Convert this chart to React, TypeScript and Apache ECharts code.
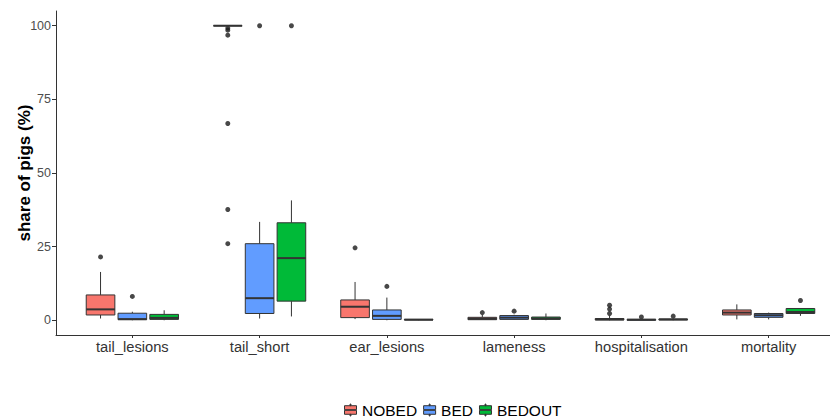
import React, { useEffect, useRef } from "react";
import * as echarts from "echarts";

const categories = ["tail_lesions", "tail_short", "ear_lesions", "lameness", "hospitalisation", "mortality"];
const groups = ["NOBED", "BED", "BEDOUT"];
const colors = ["#F8766D", "#619CFF", "#00BA38"];
const yTicks = [0, 25, 50, 75, 100];

// per category: [lower whisker, Q1, median, Q3, upper whisker]
const nobedBox = [
  [0.6, 1.8, 3.7, 8.6, 16.4],
  [100, 100, 100, 100, 100],
  [0.4, 0.9, 4.6, 6.9, 13.0],
  [0.2, 0.2, 0.5, 1.0, 1.8],
  [0, 0.1, 0.3, 0.6, 1.6],
  [0.3, 1.8, 2.6, 3.5, 5.4],
];
const bedBox = [
  [0, 0.2, 0.4, 2.4, 2.9],
  [0.6, 2.3, 7.5, 26.0, 33.4],
  [0, 0.3, 1.5, 3.5, 7.7],
  [0.2, 0.3, 0.9, 1.6, 1.9],
  [0, 0, 0.2, 0.3, 0.5],
  [0.3, 1.0, 1.7, 2.3, 2.6],
];
const bedoutBox = [
  [0, 0.3, 0.8, 2.0, 3.4],
  [1.3, 6.5, 21.1, 33.1, 40.7],
  [0, 0.1, 0.2, 0.3, 0.3],
  [0, 0.3, 0.6, 1.1, 2.3],
  [0, 0.1, 0.3, 0.4, 0.6],
  [1.5, 2.3, 2.8, 4.0, 4.0],
];

// outliers: [category index, value]
const nobedOut = [
  [0, 21.5], [1, 99.2], [1, 98.5], [1, 96.8], [1, 66.8], [1, 37.6], [1, 26.0],
  [2, 24.6], [3, 2.6], [4, 5.1], [4, 3.8], [4, 2.3],
];
const bedOut = [[0, 8.1], [1, 100], [2, 11.5], [3, 3.1], [4, 1.1]];
const bedoutOut = [[1, 100], [4, 1.4], [5, 6.7]];

const boxes = [nobedBox, bedBox, bedoutBox];
const outs = [nobedOut, bedOut, bedoutOut];

const DODGE = 0.25;
const BOX_W = 0.225;
const STROKE = "#333333";
const FONT = "Liberation Sans";

function makeRender(color: string) {
  return (params: any, api: any) => {
    const x = api.value(0);
    const lo = api.coord([x, api.value(1)]);
    const q1 = api.coord([x, api.value(2)]);
    const med = api.coord([x, api.value(3)]);
    const q3 = api.coord([x, api.value(4)]);
    const hi = api.coord([x, api.value(5)]);
    const w = api.size([BOX_W, 0])[0];
    const cx = lo[0];
    return {
      type: "group",
      children: [
        { type: "line", shape: { x1: cx, y1: hi[1], x2: cx, y2: q3[1] }, style: { stroke: STROKE, lineWidth: 1 } },
        { type: "line", shape: { x1: cx, y1: q1[1], x2: cx, y2: lo[1] }, style: { stroke: STROKE, lineWidth: 1 } },
        {
          type: "rect",
          shape: { x: cx - w / 2, y: q3[1], width: w, height: q1[1] - q3[1] },
          style: { fill: color, stroke: STROKE, lineWidth: 1 },
        },
        {
          type: "line",
          shape: { x1: cx - w / 2, y1: med[1], x2: cx + w / 2, y2: med[1] },
          style: { stroke: STROKE, lineWidth: 2 },
        },
      ],
    };
  };
}

const legendIcon =
  "path://M0,2H14V6.6H0Z M0,7.4H14V12H0Z M6.5,0H7.5V2H6.5Z M6.5,12H7.5V14H6.5Z";

export default function App() {
  const ref = useRef<HTMLDivElement>(null);
  useEffect(() => {
    if (!ref.current) return;
    const chart = echarts.init(ref.current, null, { renderer: "svg" });
    const series: any[] = [];
    groups.forEach((g, gi) => {
      const off = (gi - 1) * DODGE;
      series.push({
        type: "custom",
        name: g,
        renderItem: makeRender(colors[gi]),
        itemStyle: { color: colors[gi] },
        dimensions: ["x", "lo", "q1", "med", "q3", "hi"],
        encode: { x: 0, y: [1, 2, 3, 4, 5] },
        data: boxes[gi].map((b, ci) => [ci + 1 + off, ...b]),
        z: 3,
      });
      series.push({
        type: "scatter",
        name: g + "_outliers",
        data: outs[gi].map(([ci, v]) => [ci + 1 + off, v]),
        symbolSize: 5,
        itemStyle: { color: "#1a1a1a" },
        z: 2,
      });
    });
    chart.setOption({
      animation: false,
      textStyle: { fontFamily: FONT },
      grid: { left: 56, top: 11, width: 789, height: 324, outerBoundsMode: "none", containLabel: false },
      xAxis: {
        type: "value",
        min: 0.4,
        max: 6.6,
        splitLine: { show: false },
        axisLine: { show: true, onZero: false, lineStyle: { color: STROKE, width: 1 } },
        axisTick: { show: true, length: 3, customValues: [1, 2, 3, 4, 5, 6], lineStyle: { color: STROKE } },
        axisLabel: {
          customValues: [1, 2, 3, 4, 5, 6],
          formatter: (v: number) => categories[Math.round(v) - 1] ?? "",
          fontSize: 14.7,
          color: "#333333",
          margin: 4,
          fontFamily: FONT,
        },
      },
      yAxis: {
        type: "value",
        min: -5,
        max: 105,
        name: "share of pigs (%)",
        nameLocation: "middle",
        nameGap: 23,
        nameMoveOverlap: false,
        nameTextStyle: { fontSize: 17, fontWeight: "bold", color: "#000", fontFamily: FONT },
        splitLine: { show: false },
        axisLine: { show: true, onZero: false, lineStyle: { color: STROKE, width: 1 } },
        axisTick: { show: true, length: 4, customValues: yTicks, lineStyle: { color: STROKE } },
        axisLabel: { customValues: yTicks, fontSize: 12.5, color: "#4D4D4D", margin: 5, fontFamily: FONT },
      },
      legend: {
        data: groups.map((g, i) => ({
          name: g,
          icon: legendIcon,
          itemStyle: { color: colors[i], borderColor: STROKE, borderWidth: 1 },
        })),
        left: 344,
        top: 402,
        padding: 0,
        itemWidth: 13,
        itemHeight: 12,
        itemGap: 6,
        textStyle: { fontSize: 15.5, lineHeight: 16, color: "#000", fontFamily: FONT },
      },
      series,
    });
    return () => chart.dispose();
  }, []);
  return (
    <div
      ref={ref}
      style={{ position: "absolute", left: 0, top: 0, width: 830, height: 417, background: "#fff" }}
    />
  );
}
